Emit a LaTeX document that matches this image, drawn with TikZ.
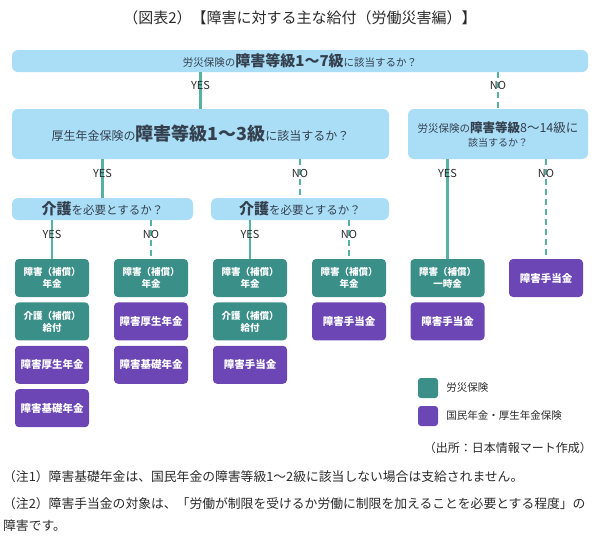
\documentclass[tikz,border=0pt]{standalone}
\usepackage{fontspec}
\setmainfont{Noto Sans CJK JP}
\usetikzlibrary{positioning}

\definecolor{qblue}{HTML}{AADEF7}
\definecolor{rosai}{HTML}{3A8F89}
\definecolor{nenkin}{HTML}{6C46B4}
\definecolor{flow}{HTML}{56B3A3}
\definecolor{ink}{HTML}{34404E}
\definecolor{note}{HTML}{2A2A2A}

\newcommand{\fsz}[2]{\fontsize{#1}{#2}\selectfont}

\begin{document}
\begin{tikzpicture}[
    x=1pt, y=-1pt,
    qbox/.style={
        fill=qblue,
        rounded corners=6pt,
        text=ink,
        align=center,
        inner sep=0pt
    },
    res/.style={
        rounded corners=4pt,
        text=white,
        font=\bfseries,
        minimum width=74pt,
        minimum height=38pt,
        align=center,
        inner sep=0pt
    },
    rbox/.style={res, fill=rosai},
    kbox/.style={res, fill=nenkin},
    yesline/.style={
        flow,
        line width=2.5pt
    },
    noline/.style={
        flow,
        line width=2.5pt,
        dash pattern=on 6pt off 4pt
    },
    lbl/.style={
        font=\fsz{11}{13},
        text=note
    },
    key/.style={
        rounded corners=3pt,
        minimum size=20pt,
        inner sep=0pt
    }
]
\useasboundingbox (0,0) rectangle (600,550);

% Title
\node [text=note, font=\fsz{15}{18}] (title) at (300,18) {（図表2）【障害に対する主な給付（労働災害編）】};

% Questions
\node [qbox, minimum width=576pt, minimum height=22pt] (q0) at (300,61)
    {\fsz{10.5}{12}労災保険の{\fsz{15}{18}\bfseries 障害等級1〜7級}に該当するか？};
\node [qbox, minimum width=377pt, minimum height=50pt] (q1) at (200.5,134)
    {\fsz{12}{14}厚生年金保険の{\fsz{18}{22}\bfseries 障害等級1〜3級}に該当するか？};
\node [qbox, minimum width=180pt, minimum height=50pt] (q2) at (498,134)
    {\fsz{10.5}{16}労災保険の{\fsz{12.5}{16}\bfseries 障害等級}{\fsz{12.5}{16}8〜14級に}\\[2pt]該当するか？};
\node [qbox, minimum width=181pt, minimum height=22pt] (k1) at (102.5,209)
    {{\fsz{15}{18}\bfseries 介護}\fsz{11.5}{14}を必要とするか？};
\node [qbox, minimum width=178pt, minimum height=22pt] (k2) at (300,209)
    {{\fsz{15}{18}\bfseries 介護}\fsz{11.5}{14}を必要とするか？};

% Benefits
\node [rbox, font=\fsz{9.5}{12}\bfseries] (c1a) at (52,278) {障害（補償）\\年金};
\node [rbox, font=\fsz{9.5}{12}\bfseries, below=5pt of c1a] (c1b) {介護（補償）\\給付};
\node [kbox, font=\fsz{10.5}{12}\bfseries, below=5pt of c1b] (c1c) {障害厚生年金};
\node [kbox, font=\fsz{10.5}{12}\bfseries, below=5pt of c1c] (c1d) {障害基礎年金};

\node [rbox, font=\fsz{9.5}{12}\bfseries] (c2a) at (151,278) {障害（補償）\\年金};
\node [kbox, font=\fsz{10.5}{12}\bfseries, below=5pt of c2a] (c2b) {障害厚生年金};
\node [kbox, font=\fsz{10.5}{12}\bfseries, below=5pt of c2b] (c2c) {障害基礎年金};

\node [rbox, font=\fsz{9.5}{12}\bfseries] (c3a) at (250,278) {障害（補償）\\年金};
\node [rbox, font=\fsz{9.5}{12}\bfseries, below=5pt of c3a] (c3b) {介護（補償）\\給付};
\node [kbox, font=\fsz{10.5}{12}\bfseries, below=5pt of c3b] (c3c) {障害手当金};

\node [rbox, font=\fsz{9.5}{12}\bfseries] (c4a) at (349,278) {障害（補償）\\年金};
\node [kbox, font=\fsz{10.5}{12}\bfseries, below=5pt of c4a] (c4b) {障害手当金};

\node [rbox, font=\fsz{9.5}{12}\bfseries] (c5a) at (447.5,278) {障害（補償）\\一時金};
\node [kbox, font=\fsz{10.5}{12}\bfseries, below=5pt of c5a] (c5b) {障害手当金};

\node [kbox, font=\fsz{10.5}{12}\bfseries] (c6a) at (546,278) {障害手当金};

% Flow lines
\draw [yesline] (q1.north |- q0.south) -- (q1.north) node [lbl, pos=0.36] {YES};
\draw [noline] (q2.north |- q0.south) -- (q2.north) node [lbl, pos=0.36] {NO};
\draw [yesline] (k1.north |- q1.south) -- (k1.north) node [lbl, pos=0.36] {YES};
\draw [noline] (k2.north |- q1.south) -- (k2.north) node [lbl, pos=0.36] {NO};
\draw [yesline] (c5a.north |- q2.south) -- (c5a.north) node [lbl, pos=0.14] {YES};
\draw [noline] (c6a.north |- q2.south) -- (c6a.north) node [lbl, pos=0.14] {NO};
\draw [yesline] (c1a.north |- k1.south) -- (c1a.north) node [lbl, pos=0.36] {YES};
\draw [noline] (c2a.north |- k1.south) -- (c2a.north) node [lbl, pos=0.36] {NO};
\draw [yesline] (c3a.north |- k2.south) -- (c3a.north) node [lbl, pos=0.36] {YES};
\draw [noline] (c4a.north |- k2.south) -- (c4a.north) node [lbl, pos=0.36] {NO};

% Legend
\node [key, fill=rosai] (key1) at (428,388) {};
\node [key, fill=nenkin] (key2) at (428,416) {};
\node [right=8pt of key1, text=note, font=\fsz{10.5}{12}, inner sep=0pt] (key1txt) {労災保険};
\node [right=8pt of key2, text=note, font=\fsz{10.5}{12}, inner sep=0pt] (key2txt) {国民年金・厚生年金保険};

% Source and notes
\node [anchor=east, text=note, font=\fsz{12}{14}, inner sep=0pt] (src) at (592,448) {（出所：日本情報マート作成）};
\node [anchor=west, text=note, font=\fsz{12.8}{16}, inner sep=0pt] (note1) at (3,477)
    {（注1）障害基礎年金は、国民年金の障害等級1〜2級に該当しない場合は支給されません。};
\node [anchor=north west, text=note, font=\fsz{12.8}{22}, align=left, inner sep=0pt] (note2) at (3,497)
    {（注2）障害手当金の対象は、「労働が制限を受けるか労働に制限を加えることを必要とする程度」の\\障害です。};
\end{tikzpicture}
\end{document}
